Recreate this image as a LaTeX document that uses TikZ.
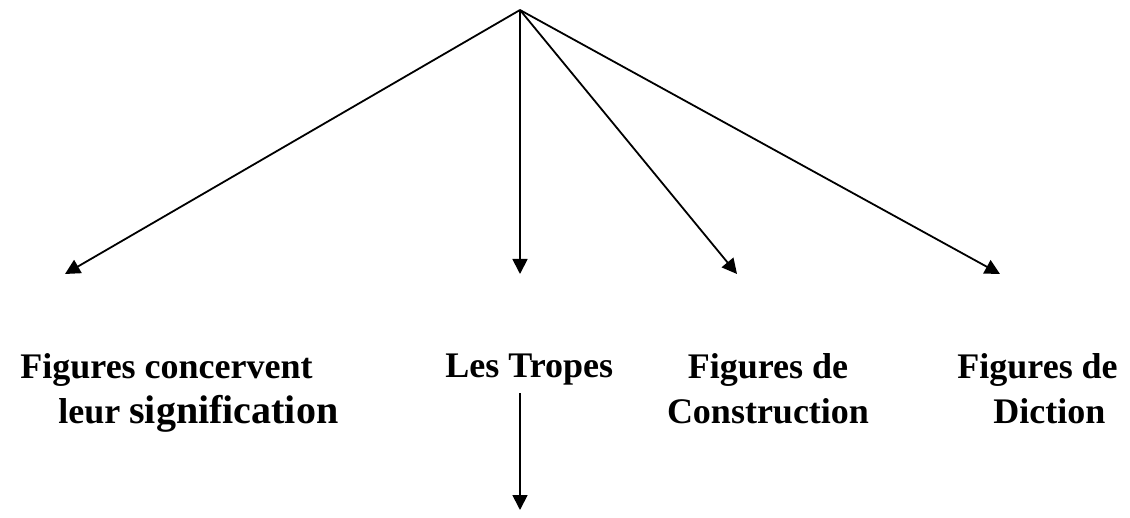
\documentclass[tikz,border=0pt]{standalone}
\usepackage{fontspec}
\setmainfont{Liberation Serif}
\usetikzlibrary{arrows.meta}
\begin{document}
\begin{tikzpicture}[x=0.5pt,y=-0.5pt,
  conn/.style={line width=0.9pt,-{Triangle[length=7.5pt,width=7.5pt]}},
  lbl/.style={inner sep=0pt,font=\fontsize{18}{22.5}\selectfont\bfseries}]
\useasboundingbox (0,0) rectangle (1130,518);
\coordinate (apex) at (520,10);
\coordinate (t1) at (65,274);
\coordinate (t2) at (520,274);
\coordinate (t3) at (737,274);
\coordinate (t4) at (1000,274);
\draw[conn] (apex) -- (t1);
\draw[conn] (apex) -- (t2);
\draw[conn] (apex) -- (t3);
\draw[conn] (apex) -- (t4);
\node[lbl,anchor=base west,align=left] (fc) at (20,423) {Figures concervent\\\hspace*{19pt}leur {\fontsize{20}{22.5}\selectfont signification}};
\node[lbl,anchor=base west] (lt) at (445,378) {Les Tropes};
\node[lbl,anchor=base,align=center] (fco) at (768,423) {Figures de\\Construction};
\node[lbl,anchor=base west,align=left] (fd) at (957,423) {Figures de\\\hspace*{18pt}Diction};
\coordinate (s) at (520,393);
\coordinate (e) at (520,510);
\draw[conn] (s) -- (e);
\end{tikzpicture}
\end{document}
